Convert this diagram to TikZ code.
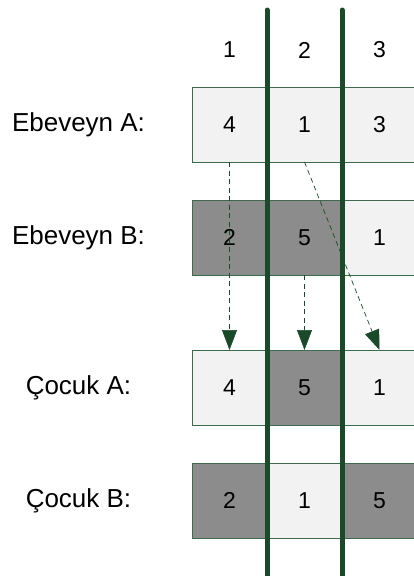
\documentclass[tikz,border=0pt]{standalone}
\usepackage{fontspec}
\setmainfont{Liberation Sans}
\usetikzlibrary{arrows.meta, positioning}

\definecolor{cutgreen}{HTML}{1B4A2A}
\definecolor{cellborder}{HTML}{3D6B4B}
\definecolor{genelight}{HTML}{F2F2F2}
\definecolor{genedark}{HTML}{8C8C8C}

\tikzset{
    gene/.style={draw=cellborder, line width=0.8pt, fill=genelight,
        minimum width=75pt, minimum height=75pt, inner sep=0pt, outer sep=0pt,
        font=\fontsize{23}{27}\selectfont},
    geneshade/.style={gene, fill=genedark},
    rowlabel/.style={font=\fontsize{26}{31}\selectfont},
    colnum/.style={font=\fontsize{23}{27}\selectfont},
    transfer/.style={cutgreen, line width=0.7pt, dash pattern=on 5pt off 3.5pt,
        -{Triangle[length=20pt, width=15pt]}},
    cutline/.style={cutgreen, line width=5pt, line cap=round}
}

\begin{document}
\begin{tikzpicture}[x=1pt, y=-1pt]
    \useasboundingbox (0,0) rectangle (414,576);

    % ============================================================
    % COLUMN NUMBERS
    % ============================================================
    \node[colnum] (num1) at (229.5,50) {1};
    \node[colnum] (num2) at (304.5,50) {2};
    \node[colnum] (num3) at (379.5,50) {3};

    % ============================================================
    % PARENT A
    % ============================================================
    \node[rowlabel] (lblPA) at (78.5,124.5) {Ebeveyn A:};
    \node[gene] (pA1) at (229.5,124.5) {4};
    \node[gene, right=0pt of pA1] (pA2) {1};
    \node[gene, right=0pt of pA2] (pA3) {3};

    % ============================================================
    % PARENT B
    % ============================================================
    \node[rowlabel] (lblPB) at (78.5,237.5) {Ebeveyn B:};
    \node[geneshade] (pB1) at (229.5,237.5) {2};
    \node[geneshade, right=0pt of pB1] (pB2) {5};
    \node[gene, right=0pt of pB2] (pB3) {1};

    % ============================================================
    % CHILD A
    % ============================================================
    \node[rowlabel] (lblCA) at (78.5,387.5) {Çocuk A:};
    \node[gene] (cA1) at (229.5,387.5) {4};
    \node[geneshade, right=0pt of cA1] (cA2) {5};
    \node[gene, right=0pt of cA2] (cA3) {1};

    % ============================================================
    % CHILD B
    % ============================================================
    \node[rowlabel] (lblCB) at (78.5,500.5) {Çocuk B:};
    \node[geneshade] (cB1) at (229.5,500.5) {2};
    \node[gene, right=0pt of cB1] (cB2) {1};
    \node[geneshade, right=0pt of cB2] (cB3) {5};

    % ============================================================
    % GENE TRANSFERS
    % ============================================================
    \draw[transfer] (pA1.south) -- (cA1.north);
    \draw[transfer] (pB2.south) -- (cA2.north);
    \draw[transfer] (pA2.south) -- (cA3.north);

    % ============================================================
    % CUT POINTS
    % ============================================================
    \coordinate (cut1top) at (267,10);
    \coordinate (cut1bot) at (267,590);
    \coordinate (cut2top) at (342,10);
    \coordinate (cut2bot) at (342,590);
    \draw[cutline] (cut1top) -- (cut1bot);
    \draw[cutline] (cut2top) -- (cut2bot);

\end{tikzpicture}
\end{document}
